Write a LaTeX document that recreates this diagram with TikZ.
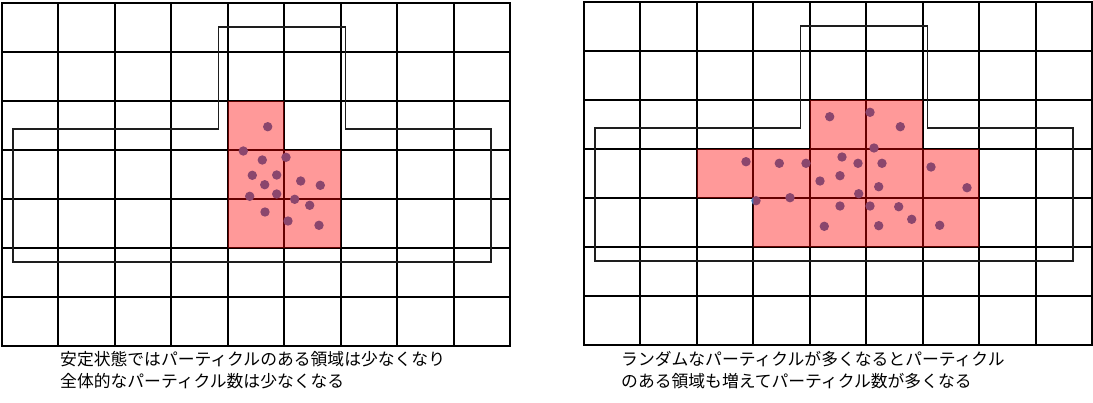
\documentclass[tikz,border=0pt]{standalone}
\usepackage{fontspec}
\newfontfamily\jpfont{Noto Sans CJK JP}
\usepackage{xcolor}
\definecolor{CellRed}{RGB}{255,0,0}
\definecolor{DotBlue}{RGB}{63,117,183}
\definecolor{FrameGray}{RGB}{30,30,30}
\newcommand{\cellw}{56.44}
\newcommand{\cellh}{49}
\tikzset{
    % Grid styles
    gridline/.style={
        draw=black,
        line width=2pt,
        line cap=rect
    },
    outline/.style={
        draw=FrameGray,
        line width=1.1pt
    },
    % Region and particle styles
    hotcell/.style={
        fill=CellRed,
        fill opacity=0.4
    },
    particle/.style={
        fill=DotBlue
    },
    caption/.style={
        font=\jpfont\fontsize{16.8}{22}\selectfont,
        align=left,
        anchor=base west,
        inner sep=0pt
    }
}

\begin{document}
\begin{tikzpicture}[x=1pt, y=-1pt]
    \useasboundingbox (0,0) rectangle (1093,402);

    % two grids with the domain outline
    \foreach \ox/\oy in {2/3, 584/2} {
        \foreach \i in {0,...,9}
            \draw[gridline] ({\ox+\i*\cellw},\oy) -- ({\ox+\i*\cellw},{\oy+7*\cellh});
        \foreach \j in {0,...,7}
            \draw[gridline] (\ox,{\oy+\j*\cellh}) -- ({\ox+9*\cellw},{\oy+\j*\cellh});
        \draw[outline] ({\ox+11},{\oy+126}) -- ({\ox+216.5},{\oy+126}) -- ({\ox+216.5},{\oy+24})
            -- ({\ox+343.5},{\oy+24}) -- ({\ox+343.5},{\oy+126}) -- ({\ox+489},{\oy+126})
            -- ({\ox+489},{\oy+259}) -- ({\ox+11},{\oy+259}) -- cycle;
    }

    % particles, steady state
    \foreach \px/\py in {267.7/126.7, 243.3/151, 262.3/160, 286/157.3, 252.3/175.3,
        276.7/175, 264.7/184.7, 300.7/181, 320.3/185.3, 249.7/196.3, 276.7/194,
        294.7/199.3, 309.7/205.3, 265/212, 288/221, 319/225.3}
        \fill[particle] (\px,\py) circle[radius=4.7pt];

    % particles, random
    \foreach \px/\py in {829.7/116.7, 870/112.3, 900.3/126.7, 874/148, 746/161.7,
        779.3/163.3, 806/163.3, 842/157, 858/163.3, 882/163.3, 931/167, 820/181,
        840/175.7, 878.7/186.7, 967/187.7, 858.7/193.7, 756/200.7, 790/197.7,
        840/206, 870/206, 898.7/206.7, 911.7/219.3, 824.3/226.3, 878.7/225.7, 939.7/225.3}
        \fill[particle] (\px,\py) circle[radius=4.7pt];

    % occupied cells
    \fill[hotcell] ({2+4*\cellw},{3+2*\cellh}) rectangle ({2+5*\cellw},{3+5*\cellh})
        ({2+5*\cellw},{3+3*\cellh}) rectangle ({2+6*\cellw},{3+5*\cellh});
    \fill[hotcell] ({584+4*\cellw},{2+2*\cellh}) rectangle ({584+6*\cellw},{2+3*\cellh})
        ({584+2*\cellw},{2+3*\cellh}) rectangle ({584+7*\cellw},{2+4*\cellh})
        ({584+3*\cellw},{2+4*\cellh}) rectangle ({584+7*\cellw},{2+5*\cellh});

    \node[caption] (capleft) at (60,387.5)
        {安定状態ではパーティクルのある領域は少なくなり\\全体的なパーティクル数は少なくなる};
    \node[caption] (capright) at (621,387.5)
        {ランダムなパーティクルが多くなるとパーティクル\\のある領域も増えてパーティクル数が多くなる};
\end{tikzpicture}
\end{document}
